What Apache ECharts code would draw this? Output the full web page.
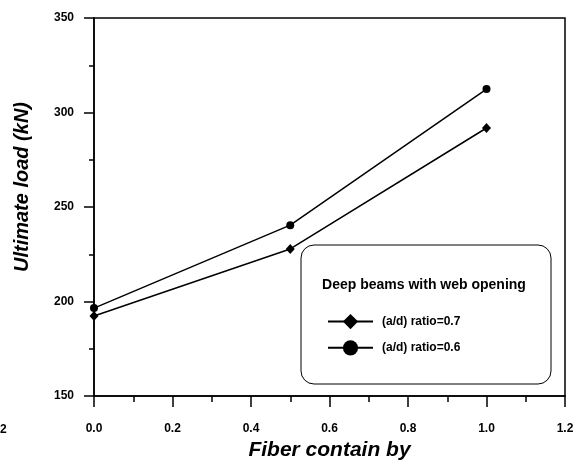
<!DOCTYPE html>
<html>
<head>
<meta charset="utf-8">
<script src="https://cdn.jsdelivr.net/npm/echarts@6/dist/echarts.min.js"></script>
<style>html,body{margin:0;padding:0;background:#fff}#c{width:577px;height:466px}</style>
</head>
<body>
<div id="c"></div>
<script>
const fiber = [0.0, 0.5, 1.0];
const ratio07 = [192.3, 227.8, 291.8];
const ratio06 = [196.5, 240.4, 312.4];
const seriesNames = ['(a/d) ratio=0.7', '(a/d) ratio=0.6'];
const legendTitle = 'Deep beams with web opening';
const xTitle = 'Fiber contain by';
const yTitle = 'Ultimate load (kN)';

const FONT = '"Liberation Sans", Arial, sans-serif';
const chart = echarts.init(document.getElementById('c'));
const toPairs = (xs, ys) => xs.map((x, i) => [x, ys[i]]);

chart.setOption({
  animation: false,
  backgroundColor: '#fff',
  grid: { left: 94, right: 12, top: 18, bottom: 69, show: true, borderColor: '#000', borderWidth: 1.5 },
  xAxis: {
    type: 'value', min: 0, max: 1.2, interval: 0.2,
    name: xTitle, nameLocation: 'middle', nameGap: 44,
    nameTextStyle: { fontFamily: FONT, fontSize: 21, fontWeight: 'bold', fontStyle: 'italic', color: '#000' },
    axisLine: { show: true, lineStyle: { color: '#000', width: 1.5 } },
    axisTick: { show: true, inside: false, length: 11, lineStyle: { color: '#000', width: 1.5 } },
    minorTick: { show: true, splitNumber: 2, length: 6, lineStyle: { color: '#000', width: 1.5 } },
    splitLine: { show: false },
    axisLabel: { margin: 27, fontFamily: FONT, fontSize: 12, fontWeight: 'bold', color: '#000',
      formatter: v => v.toFixed(1) }
  },
  yAxis: {
    type: 'value', min: 150, max: 350, interval: 50,
    axisLine: { show: true, lineStyle: { color: '#000', width: 1.5 } },
    axisTick: { show: true, inside: false, length: 10, lineStyle: { color: '#000', width: 1.5 } },
    minorTick: { show: true, splitNumber: 2, length: 5, lineStyle: { color: '#000', width: 1.5 } },
    splitLine: { show: false },
    axisLabel: { margin: 20, fontFamily: FONT, fontSize: 12, fontWeight: 'bold', color: '#000' }
  },
  legend: {
    show: true, orient: 'vertical', left: 322, top: 309,
    itemWidth: 45, itemHeight: 19, itemGap: 11,
    data: seriesNames,
    lineStyle: { width: 2 },
    textStyle: { fontFamily: FONT, fontSize: 12, fontWeight: 'bold', color: '#000', padding: [0, 0, 0, 4] }
  },
  graphic: [
    { type: 'rect', shape: { x: 301, y: 245, width: 250, height: 139, r: 13 },
      style: { fill: '#fff', stroke: '#000', lineWidth: 1 }, z: 0 },
    { type: 'text', x: 424, y: 285, z: 1,
      style: { text: legendTitle, fontFamily: FONT, fontSize: 14, fontWeight: 'bold', fill: '#000',
        align: 'center', verticalAlign: 'middle' } },
    { type: 'text', x: 22, y: 187, rotation: Math.PI / 2,
      style: { text: yTitle, fontFamily: FONT, fontSize: 20, fontWeight: 'bold', fontStyle: 'italic', fill: '#000',
        align: 'center', verticalAlign: 'middle' } },
    { type: 'text', x: 0, y: 430,
      style: { text: '2', fontFamily: FONT, fontSize: 12, fontWeight: 'bold', fill: '#000',
        align: 'left', verticalAlign: 'middle' } }
  ],
  series: [
    { name: seriesNames[0], type: 'line', data: toPairs(fiber, ratio07),
      symbol: 'diamond', symbolSize: [9, 10], showAllSymbol: true,
      lineStyle: { color: '#000', width: 1.5 }, itemStyle: { color: '#000' }, z: 3 },
    { name: seriesNames[1], type: 'line', data: toPairs(fiber, ratio06),
      symbol: 'circle', symbolSize: 8, showAllSymbol: true,
      lineStyle: { color: '#000', width: 1.5 }, itemStyle: { color: '#000' }, z: 3 }
  ]
});
</script>
</body>
</html>
